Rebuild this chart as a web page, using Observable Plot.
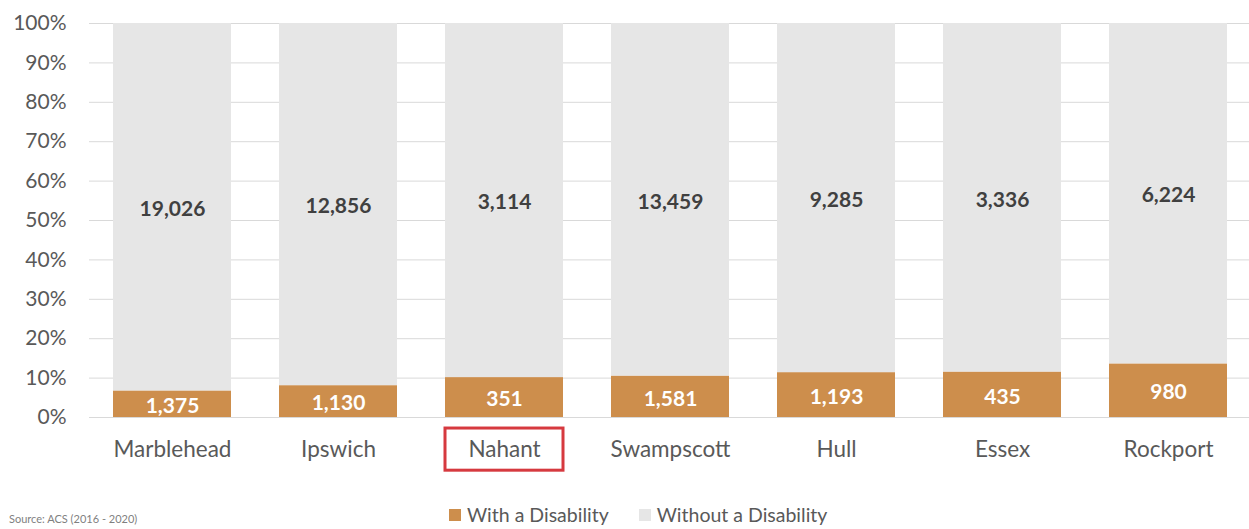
<!DOCTYPE html>
<html>
<head>
<meta charset="utf-8">
<script src="https://cdn.jsdelivr.net/npm/d3@7"></script>
<script src="https://cdn.jsdelivr.net/npm/@observablehq/plot@0.6"></script>
<style>
  html, body { margin: 0; padding: 0; background: #fff; overflow: hidden; }
  #wrap { position: relative; width: 1249px; height: 529px; font-family: Lato, "Open Sans", sans-serif; overflow: hidden; }
  #legend { position: absolute; top: 503px; left: 449px; display: flex; align-items: center; font-size: 19.5px; line-height: 23px; color: #595959; white-space: nowrap; }
  #legend .sw { display: inline-block; width: 12px; height: 12px; margin-right: 6px; }
  #legend .item { display: flex; align-items: center; margin-right: 30px; }
  #source { position: absolute; top: 512px; left: 9px; font-size: 11px; line-height: 14px; color: #7f7f7f; }
</style>
</head>
<body>
<div id="wrap">
  <div id="chart"></div>
  <div id="source">Source: ACS (2016 - 2020)</div>
  <div id="legend"></div>
</div>
<script>
const towns = ["Marblehead", "Ipswich", "Nahant", "Swampscott", "Hull", "Essex", "Rockport"];
const withDisability = [1375, 1130, 351, 1581, 1193, 435, 980];
const withoutDisability = [19026, 12856, 3114, 13459, 9285, 3336, 6224];
const seriesNames = ["With a Disability", "Without a Disability"];
const seriesColors = ["#CD8E4C", "#E6E6E6"];
const labelColors = ["#FFFFFF", "#404040"];
const highlighted = ["Nahant"];
const yTicks = [0, 0.1, 0.2, 0.3, 0.4, 0.5, 0.6, 0.7, 0.8, 0.9, 1];

const rows = [];
towns.forEach((t, i) => {
  rows.push({town: t, series: seriesNames[0], value: withDisability[i]});
  rows.push({town: t, series: seriesNames[1], value: withoutDisability[i]});
});

const stackOpts = {x: "town", y: "value", z: "series", order: seriesNames, offset: "normalize"};

const chart = Plot.plot({
  width: 1249,
  height: 500,
  marginLeft: 89,
  marginRight: -2,
  marginTop: 23,
  marginBottom: 83,
  style: {fontFamily: "Lato, 'Open Sans', sans-serif", fontSize: "20px", color: "#595959", background: "#fff", overflow: "hidden"},
  x: {domain: towns, paddingInner: 0.29, paddingOuter: 0.145, label: null},
  y: {domain: [0, 1], label: null},
  color: {domain: seriesNames, range: seriesColors},
  marks: [
    Plot.ruleY(yTicks, {stroke: "#D9D9D9", strokeWidth: 1}),
    Plot.barY(rows, Plot.stackY({...stackOpts, fill: "series"})),
    Plot.text(rows, Plot.stackY({
      ...stackOpts,
      text: d => d3.format(",")(d.value),
      fill: d => labelColors[seriesNames.indexOf(d.series)],
      fontWeight: "bold",
      fontSize: 21,
      dy: 2
    })),
    Plot.axisY(yTicks, {tickSize: 0, tickPadding: 23, tickFormat: d3.format(".0%"), fontSize: 21, fill: "#595959"}),
    Plot.axisX({tickSize: 0, tickPadding: 24, fontSize: 22.5, fill: "#595959"}),
    Plot.barY(highlighted, {x: d => d, y1: -0.028, y2: -0.135, fill: "none", stroke: "#D6393F", strokeWidth: 3, clip: false})
  ]
});
document.getElementById("chart").appendChild(chart);

const legend = document.getElementById("legend");
seriesNames.forEach((s, i) => {
  const item = document.createElement("span");
  item.className = "item";
  const sw = document.createElement("span");
  sw.className = "sw";
  sw.style.background = seriesColors[i];
  item.appendChild(sw);
  item.appendChild(document.createTextNode(s));
  legend.appendChild(item);
});
</script>
</body>
</html>
